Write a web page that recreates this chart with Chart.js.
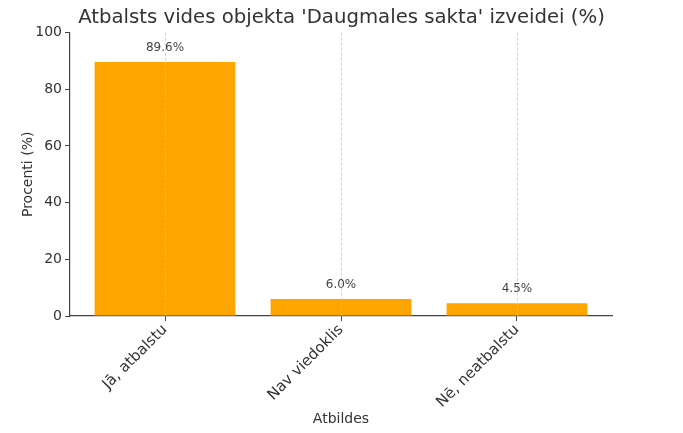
<!doctype html>
<html lang="lv">
<head>
<meta charset="utf-8">
<title>Atbalsts vides objekta</title>
<script src="https://cdn.jsdelivr.net/npm/chart.js@4/dist/chart.umd.min.js"></script>
<style>
  html, body { margin: 0; padding: 0; background: #fff; }
  canvas { display: block; }
</style>
</head>
<body>
<canvas id="barChart" width="683" height="433"></canvas>
<script>
// data
var categories = ['Jā, atbalstu', 'Nav viedoklis', 'Nē, neatbalstu'];
var percents = [89.6, 6.0, 4.5];
var yTicks = [0, 20, 40, 60, 80, 100];

var FONT = "'DejaVu Sans', sans-serif";
var TEXT = '#333333';
var AXIS = '#444444';

// dashed vertical grid lines over bars + value labels above bars
var overlay = {
  id: 'overlay',
  afterDatasetsDraw: function (chart) {
    var ctx = chart.ctx;
    var xs = chart.scales.x, ys = chart.scales.y;
    var area = chart.chartArea;
    ctx.save();
    ctx.strokeStyle = '#c8c8c8';
    ctx.lineWidth = 0.8;
    ctx.setLineDash([3, 2]);
    for (var i = 0; i < categories.length; i++) {
      var px = Math.round(xs.getPixelForValue(i)) + 0.5;
      ctx.beginPath();
      ctx.moveTo(px, area.top);
      ctx.lineTo(px, area.bottom);
      ctx.stroke();
    }
    ctx.setLineDash([]);
    ctx.fillStyle = '#444444';
    ctx.font = '12px ' + FONT;
    ctx.textAlign = 'center';
    ctx.textBaseline = 'bottom';
    for (var j = 0; j < percents.length; j++) {
      ctx.fillText(percents[j].toFixed(1) + '%', xs.getPixelForValue(j), ys.getPixelForValue(percents[j] + 3));
    }
    ctx.restore();
  }
};

var points = percents.map(function (v, i) { return { x: i, y: v }; });

new Chart(document.getElementById('barChart'), {
  type: 'bar',
  data: {
    datasets: [{
      data: points,
      backgroundColor: '#ffa500',
      borderWidth: 0,
      barPercentage: 0.8,
      categoryPercentage: 1.0
    }]
  },
  options: {
    responsive: false,
    animation: false,
    layout: { padding: 0 },
    plugins: {
      legend: { display: false },
      tooltip: { enabled: false },
      title: {
        display: true,
        text: "Atbalsts vides objekta 'Daugmales sakta' izveidei (%)",
        color: TEXT,
        font: { family: FONT, size: 19.7, weight: 'normal' },
        padding: { top: 6, bottom: 3 }
      }
    },
    scales: {
      x: {
        type: 'linear',
        offset: false,
        min: -0.54,
        max: 2.54,
        afterBuildTicks: function (scale) {
          scale.ticks = categories.map(function (c, i) { return { value: i }; });
        },
        afterFit: function (scale) { scale.height = 117; },
        ticks: {
          autoSkip: false,
          minRotation: 45,
          maxRotation: 45,
          padding: 0,
          color: TEXT,
          font: { family: FONT, size: 15 },
          callback: function (v) { return categories[v]; }
        },
        grid: { display: true, offset: false, drawOnChartArea: false, drawTicks: true, tickLength: 5, color: AXIS, lineWidth: 1 },
        border: { display: true, color: AXIS, width: 1.2 },
        title: {
          display: true,
          text: 'Atbildes',
          color: TEXT,
          font: { family: FONT, size: 14 },
          padding: { top: 0, bottom: 5 }
        }
      },
      y: {
        min: 0,
        max: 100,
        afterBuildTicks: function (scale) {
          scale.ticks = yTicks.map(function (t) { return { value: t }; });
        },
        afterFit: function (scale) { scale.width = 70; },
        ticks: {
          padding: 3,
          color: TEXT,
          font: { family: FONT, size: 14 }
        },
        grid: { display: true, drawOnChartArea: false, drawTicks: true, tickLength: 5, color: AXIS, lineWidth: 1 },
        border: { display: true, color: AXIS, width: 1.2 },
        title: {
          display: true,
          text: 'Procenti (%)',
          color: TEXT,
          font: { family: FONT, size: 14 },
          padding: { top: 20, bottom: 0 }
        }
      },
      // empty right-hand strip so the plot ends where the reference's does
      spacer: {
        type: 'linear',
        position: 'right',
        display: true,
        afterFit: function (scale) { scale.width = 71; },
        ticks: { display: false },
        grid: { display: false },
        border: { display: false }
      }
    }
  },
  plugins: [overlay]
});
</script>
</body>
</html>
